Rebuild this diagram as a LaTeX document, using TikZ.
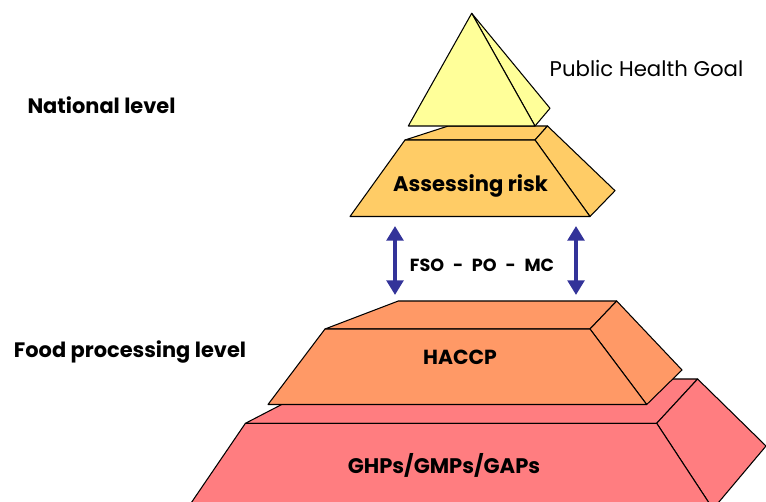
\documentclass[tikz,border=0pt]{standalone}
\usepackage{fontspec}
\setmainfont{Poppins}
\usetikzlibrary{arrows.meta}
\definecolor{goalyellow}{rgb}{1,1,0.6}
\definecolor{riskorange}{rgb}{1,0.8,0.4}
\definecolor{haccporange}{rgb}{1,0.6,0.4}
\definecolor{ghpred}{rgb}{1,0.49,0.5}
\definecolor{linkblue}{rgb}{0.2,0.2,0.6}

\begin{document}
\begin{tikzpicture}[x=0.02cm,y=-0.02cm,
    face/.style={draw=black,line width=0.6pt,line join=round},
    layertext/.style={font=\bfseries\fontsize{12}{14}\selectfont},
    sidetext/.style={font=\bfseries\fontsize{11.9}{14}\selectfont},
    linkarrow/.style={draw=linkblue,line width=2.7pt,
      {Triangle[length=8.3pt,width=9.4pt]}-{Triangle[length=8.3pt,width=9.4pt]}}]
  \useasboundingbox (0,0) rectangle (766,502);
  \clip (0,0) rectangle (766,502);

  % bottom layer
  \filldraw[face,fill=ghpred] (245.4,423.3) -- (331,379) -- (697.6,379) -- (656.7,423.3) -- cycle;
  \filldraw[face,fill=ghpred] (656.7,423.3) -- (697.6,379) -- (766,446) -- (713,509) -- cycle;
  \filldraw[face,fill=ghpred] (245.4,423.3) -- (656.7,423.3) -- (713,509) -- (187,509) -- cycle;
  \node[layertext] (ghp) at (444,465) {GHPs/GMPs/GAPs};

  % HACCP layer
  \filldraw[face,fill=haccporange] (325,329) -- (398.3,301) -- (616.7,301) -- (590,329) -- cycle;
  \filldraw[face,fill=haccporange] (590,329) -- (616.7,301) -- (682,370) -- (646.7,404.5) -- cycle;
  \filldraw[face,fill=haccporange] (325,329) -- (590,329) -- (646.7,404.5) -- (268,404.5) -- cycle;
  \node[font=\bfseries\fontsize{11.6}{14}\selectfont] (haccp) at (460,357) {HACCP};

  % risk layer
  \filldraw[face,fill=riskorange] (405,140) -- (448.3,126) -- (547.5,126) -- (535,140) -- cycle;
  \filldraw[face,fill=riskorange] (535,140) -- (547.5,126) -- (615,190.7) -- (590,216.5) -- cycle;
  \filldraw[face,fill=riskorange] (405,140) -- (535,140) -- (590,216.5) -- (350,216.5) -- cycle;
  \node[layertext] (risk) at (470.5,186) {Assessing risk};

  % goal on top
  \filldraw[face,fill=goalyellow] (471.7,13.3) -- (535,126) -- (550,108.3) -- cycle;
  \filldraw[face,fill=goalyellow] (471.7,13.3) -- (408.3,126) -- (535,126) -- cycle;

  % labels
  \node[font=\fontsize{12.1}{14}\selectfont] (goal) at (646.5,69) {Public Health Goal};
  \node[sidetext] (national) at (101.5,105) {National level};
  \node[sidetext] (food) at (130,352) {Food processing level};
  \node[font=\bfseries\fontsize{10}{12}\selectfont] (targets) at (482,265) {FSO\enspace-\enspace PO\enspace-\enspace MC};

  % links between the levels
  \coordinate (lefttop) at (395,226);
  \coordinate (leftbot) at (395,295);
  \coordinate (righttop) at (576,226);
  \coordinate (rightbot) at (576,295);
  \draw[linkarrow] (lefttop) -- (leftbot);
  \draw[linkarrow] (righttop) -- (rightbot);
\end{tikzpicture}
\end{document}
